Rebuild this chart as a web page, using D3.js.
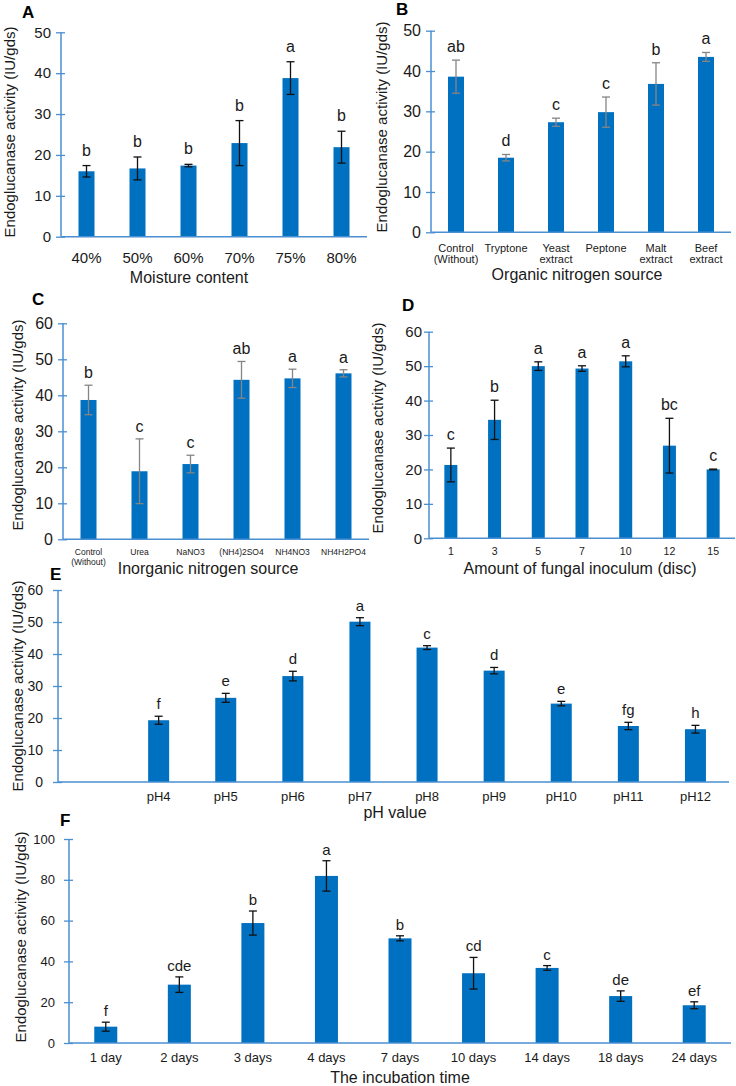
<!DOCTYPE html>
<html>
<head>
<meta charset="utf-8">
<script src="https://cdn.jsdelivr.net/npm/d3@7"></script>
<style>
  body { margin: 0; background: #fff; }
  svg { display: block; font-family: "Liberation Sans", Arial, sans-serif; }
</style>
</head>
<body>
<svg id="fig" width="736" height="1086"></svg>
<script>
// A - moisture content
const moistureLabels = ["40%", "50%", "60%", "70%", "75%", "80%"];
const moistureMean = [16.0, 16.7, 17.4, 22.9, 38.8, 21.9];
const moistureErr = [1.4, 2.8, 0.3, 5.5, 4.0, 3.9];
const moistureSig = ["b", "b", "b", "b", "a", "b"];

// B - organic nitrogen source
const organicLabels = ["Control\n(Without)", "Tryptone", "Yeast\nextract", "Peptone", "Malt\nextract", "Beef\nextract"];
const organicMean = [38.6, 18.5, 27.3, 29.8, 36.8, 43.5];
const organicErr = [4.1, 0.8, 1.0, 3.75, 5.25, 1.1];
const organicSig = ["ab", "d", "c", "c", "b", "a"];

// C - inorganic nitrogen source
const inorganicLabels = ["Control\n(Without)", "Urea", "NaNO3", "(NH4)2SO4", "NH4NO3", "NH4H2PO4"];
const inorganicMean = [38.7, 18.9, 20.9, 44.3, 44.7, 46.1];
const inorganicErr = [4.1, 9.0, 2.45, 5.1, 2.55, 1.0];
const inorganicSig = ["b", "c", "c", "ab", "a", "a"];

// D - amount of fungal inoculum
const discLabels = ["1", "3", "5", "7", "10", "12", "15"];
const discMean = [21.3, 34.4, 50.0, 49.3, 51.4, 26.9, 20.0];
const discErr = [4.9, 5.7, 1.25, 0.8, 1.6, 7.95, 0.1];
const discSig = ["c", "b", "a", "a", "a", "bc", "c"];

// E - pH (first slot is empty on the original axis)
const phLabels = ["", "pH4", "pH5", "pH6", "pH7", "pH8", "pH9", "pH10", "pH11", "pH12"];
const phMean = [null, 19.3, 26.3, 33.1, 50.1, 42.0, 34.8, 24.5, 17.5, 16.5];
const phErr = [null, 1.25, 1.4, 1.5, 1.25, 0.6, 1.0, 0.7, 1.15, 1.2];
const phSig = ["", "f", "e", "d", "a", "c", "d", "e", "fg", "h"];

// F - incubation time
const timeLabels = ["1 day", "2 days", "3 days", "4 days", "7 days", "10 days", "14 days", "18 days", "24 days"];
const timeMean = [8.0, 28.6, 58.8, 81.9, 51.3, 34.2, 36.8, 23.0, 18.5];
const timeErr = [2.2, 3.8, 5.9, 7.45, 1.25, 7.75, 1.15, 2.55, 1.7];
const timeSig = ["f", "cde", "b", "a", "b", "cd", "c", "de", "ef"];

const yTitle = "Endoglucanase activity (IU/gds)";

const svg = d3.select("#fig");
const axisColor = "#4a8fd2";
const barColor = "#0070c0";
const textColor = "#1a1a1a";

function panel(p) {
    const g = svg.append("g");
    const x = d3.scaleBand().domain(p.cats).range([p.x0, p.x1]);
    const y = d3.scaleLinear().domain([0, p.ymax]).range([p.yb, p.yt]);

    const rows = p.cats.map((c, i) => ({ c: c, v: p.vals[i], e: p.errs[i], s: p.sig[i] }))
        .filter(d => d.v != null);

    // bars
    g.selectAll("rect.bar").data(rows).join("rect")
        .attr("class", "bar")
        .attr("x", d => x(d.c) + x.bandwidth() / 2 - p.bw / 2)
        .attr("width", p.bw)
        .attr("y", d => y(d.v))
        .attr("height", d => y(0) - y(d.v))
        .attr("fill", barColor);

    // error bars
    const eb = g.selectAll("g.err").data(rows).join("g")
        .attr("transform", d => `translate(${x(d.c) + x.bandwidth() / 2},0)`)
        .attr("stroke", p.errColor).attr("stroke-width", 1.3);
    eb.append("line").attr("y1", d => y(d.v - d.e)).attr("y2", d => y(d.v + d.e));
    eb.append("line").attr("x1", -4).attr("x2", 4).attr("y1", d => y(d.v + d.e)).attr("y2", d => y(d.v + d.e));
    eb.append("line").attr("x1", -4).attr("x2", 4).attr("y1", d => y(d.v - d.e)).attr("y2", d => y(d.v - d.e));

    // significance letters
    g.selectAll("text.sig").data(rows).join("text")
        .attr("x", d => x(d.c) + x.bandwidth() / 2)
        .attr("y", d => y(d.v + d.e) - p.sigGap)
        .attr("text-anchor", "middle")
        .attr("font-size", p.sigFont)
        .attr("fill", textColor)
        .text(d => d.s);

    // y axis
    const ya = g.append("g")
        .attr("transform", `translate(${p.x0},0)`)
        .call(d3.axisLeft(y).tickValues(d3.range(0, p.ymax + 1, p.step))
            .tickSizeOuter(0).tickSizeInner(5).tickPadding(p.tickPad));
    ya.select(".domain").remove();
    ya.selectAll(".tick line").attr("x1", -5).attr("x2", 4).attr("stroke", axisColor).attr("stroke-width", 1.3);
    ya.selectAll(".tick text").attr("font-size", p.tickFont).attr("fill", textColor)
        .attr("font-family", null);
    g.append("line")
        .attr("x1", p.x0).attr("x2", p.x0).attr("y1", p.yt).attr("y2", p.yb)
        .attr("stroke", axisColor).attr("stroke-width", 1.5);

    // x axis
    const xa = g.append("g")
        .attr("transform", `translate(0,${p.yb})`)
        .call(d3.axisBottom(x).tickSize(0));
    xa.select(".domain").remove();
    xa.selectAll(".tick text")
        .attr("font-size", p.xFont).attr("fill", textColor).attr("font-family", null)
        .attr("dy", null).attr("y", null)
        .each(function (d) {
            const t = d3.select(this);
            t.text(null);
            d.split("\n").forEach((line, k) => {
                t.append("tspan").attr("x", 0).attr("y", p.xLabelY + k * p.xLine).text(line);
            });
        });
    g.append("line")
        .attr("x1", p.x0).attr("x2", p.x1).attr("y1", p.yb).attr("y2", p.yb)
        .attr("stroke", axisColor).attr("stroke-width", 1.5);

    // titles
    g.append("text")
        .attr("x", p.titleX).attr("y", p.titleY)
        .attr("text-anchor", "middle").attr("font-size", 16).attr("fill", textColor)
        .text(p.title);
    g.append("text")
        .attr("transform", `translate(${p.ylabX},${p.ylabY}) rotate(-90)`)
        .attr("text-anchor", "middle").attr("font-size", 15).attr("fill", textColor)
        .text(yTitle);
    g.append("text")
        .attr("x", p.tagX).attr("y", p.tagY)
        .attr("font-size", 17).attr("font-weight", "bold").attr("fill", "#000")
        .text(p.tag);
}

panel({
    tag: "A", tagX: 22, tagY: 18,
    cats: moistureLabels, vals: moistureMean, errs: moistureErr, sig: moistureSig,
    x0: 61, x1: 367, yt: 32.3, yb: 236.7, ymax: 50, step: 10, bw: 16,
    errColor: "#111", sigGap: 10, sigFont: 16,
    tickFont: 15, tickPad: 5, xFont: 15, xLabelY: 26, xLine: 0,
    title: "Moisture content", titleX: 189, titleY: 283,
    ylabX: 15, ylabY: 132
});

panel({
    tag: "B", tagX: 396, tagY: 15,
    cats: organicLabels, vals: organicMean, errs: organicErr, sig: organicSig,
    x0: 431, x1: 731, yt: 30.7, yb: 232.3, ymax: 50, step: 10, bw: 16,
    errColor: "#858585", sigGap: 8, sigFont: 16,
    tickFont: 16, tickPad: 5, xFont: 11, xLabelY: 20, xLine: 11,
    title: "Organic nitrogen source", titleX: 577, titleY: 280,
    ylabX: 387, ylabY: 127
});

panel({
    tag: "C", tagX: 32, tagY: 305,
    cats: inorganicLabels, vals: inorganicMean, errs: inorganicErr, sig: inorganicSig,
    x0: 63, x1: 369, yt: 323.3, yb: 539.3, ymax: 60, step: 10, bw: 16,
    errColor: "#858585", sigGap: 7, sigFont: 16,
    tickFont: 16, tickPad: 5, xFont: 8.5, xLabelY: 16, xLine: 10,
    title: "Inorganic nitrogen source", titleX: 208, titleY: 574,
    ylabX: 23, ylabY: 425
});

panel({
    tag: "D", tagX: 402, tagY: 311,
    cats: discLabels, vals: discMean, errs: discErr, sig: discSig,
    x0: 429, x1: 735, yt: 331.7, yb: 538.3, ymax: 60, step: 10, bw: 13,
    errColor: "#111", sigGap: 8, sigFont: 16,
    tickFont: 15, tickPad: 2, xFont: 10.5, xLabelY: 17, xLine: 0,
    title: "Amount of fungal inoculum (disc)", titleX: 580, titleY: 574,
    ylabX: 383, ylabY: 428
});

panel({
    tag: "E", tagX: 50, tagY: 580,
    cats: phLabels, vals: phMean, errs: phErr, sig: phSig,
    x0: 58, x1: 729, yt: 590, yb: 782, ymax: 60, step: 10, bw: 21,
    errColor: "#111", sigGap: 7, sigFont: 15,
    tickFont: 14, tickPad: 10, xFont: 13, xLabelY: 19, xLine: 0,
    title: "pH value", titleX: 395, titleY: 818,
    ylabX: 23, ylabY: 686
});

panel({
    tag: "F", tagX: 60, tagY: 826,
    cats: timeLabels, vals: timeMean, errs: timeErr, sig: timeSig,
    x0: 69, x1: 731, yt: 839, yb: 1043, ymax: 100, step: 20, bw: 23,
    errColor: "#111", sigGap: 6, sigFont: 15,
    tickFont: 13, tickPad: 9, xFont: 13, xLabelY: 19, xLine: 0,
    title: "The incubation time", titleX: 400, titleY: 1083,
    ylabX: 26, ylabY: 937
});
</script>
</body>
</html>
